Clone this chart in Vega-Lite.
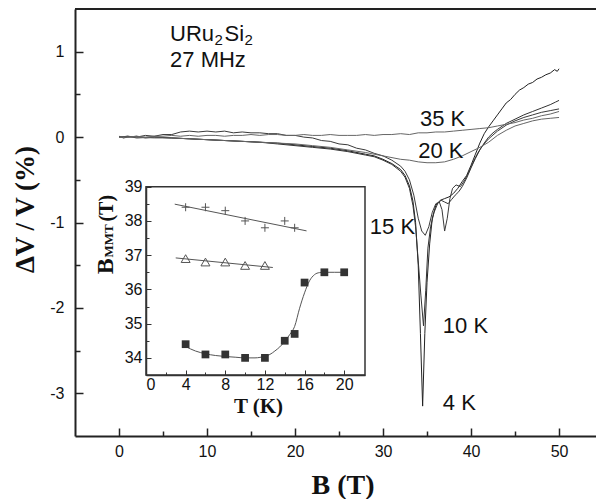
{
  "$schema": "https://vega.github.io/schema/vega-lite/v6.json",
  "width": 521,
  "height": 427,
  "autosize": {"type": "none"},
  "padding": {"left": 75, "top": 9, "right": 0, "bottom": 63},
  "background": "white",
  "config": {"view": {"stroke": null}},
  "datasets": {
    "curves": [
      {"T":"4 K","B":0,"dV":0.01},{"T":"4 K","B":0.5,"dV":-0.01},{"T":"4 K","B":1,"dV":0.0},{"T":"4 K","B":2,"dV":0.01},{"T":"4 K","B":3,"dV":-0.01},{"T":"4 K","B":4,"dV":0.0},{"T":"4 K","B":6,"dV":-0.01},{"T":"4 K","B":8,"dV":-0.02},{"T":"4 K","B":10,"dV":-0.03},{"T":"4 K","B":12,"dV":-0.04},{"T":"4 K","B":14,"dV":-0.05},{"T":"4 K","B":16,"dV":-0.06},{"T":"4 K","B":18,"dV":-0.07},{"T":"4 K","B":20,"dV":-0.09},{"T":"4 K","B":22,"dV":-0.11},{"T":"4 K","B":24,"dV":-0.13},{"T":"4 K","B":26,"dV":-0.16},{"T":"4 K","B":28,"dV":-0.2},{"T":"4 K","B":29,"dV":-0.22},{"T":"4 K","B":30,"dV":-0.26},{"T":"4 K","B":31,"dV":-0.31},{"T":"4 K","B":32,"dV":-0.38},{"T":"4 K","B":32.5,"dV":-0.45},{"T":"4 K","B":33,"dV":-0.57},{"T":"4 K","B":33.4,"dV":-0.75},{"T":"4 K","B":33.7,"dV":-1.0},{"T":"4 K","B":34.0,"dV":-1.5},{"T":"4 K","B":34.25,"dV":-2.3},{"T":"4 K","B":34.5,"dV":-3.15},{"T":"4 K","B":34.75,"dV":-2.3},{"T":"4 K","B":35.0,"dV":-1.7},{"T":"4 K","B":35.3,"dV":-1.25},{"T":"4 K","B":35.6,"dV":-0.95},{"T":"4 K","B":36.0,"dV":-0.8},{"T":"4 K","B":36.5,"dV":-0.74},{"T":"4 K","B":37.0,"dV":-0.72},{"T":"4 K","B":37.5,"dV":-0.7},{"T":"4 K","B":38.0,"dV":-0.66},{"T":"4 K","B":38.5,"dV":-0.6},{"T":"4 K","B":39.0,"dV":-0.52},{"T":"4 K","B":39.5,"dV":-0.45},{"T":"4 K","B":40,"dV":-0.33},{"T":"4 K","B":40.5,"dV":-0.2},{"T":"4 K","B":41,"dV":-0.07},{"T":"4 K","B":41.5,"dV":0.04},{"T":"4 K","B":42,"dV":0.12},{"T":"4 K","B":42.5,"dV":0.19},{"T":"4 K","B":43,"dV":0.26},{"T":"4 K","B":43.5,"dV":0.33},{"T":"4 K","B":44,"dV":0.4},{"T":"4 K","B":44.5,"dV":0.44},{"T":"4 K","B":45,"dV":0.5},{"T":"4 K","B":45.5,"dV":0.55},{"T":"4 K","B":46,"dV":0.58},{"T":"4 K","B":46.5,"dV":0.62},{"T":"4 K","B":47,"dV":0.64},{"T":"4 K","B":47.5,"dV":0.68},{"T":"4 K","B":48,"dV":0.7},{"T":"4 K","B":48.5,"dV":0.73},{"T":"4 K","B":49,"dV":0.75},{"T":"4 K","B":49.5,"dV":0.79},{"T":"4 K","B":49.8,"dV":0.77},{"T":"4 K","B":50,"dV":0.8},
      {"T":"10 K","B":0,"dV":0.0},{"T":"10 K","B":1,"dV":0.01},{"T":"10 K","B":2,"dV":-0.01},{"T":"10 K","B":4,"dV":0.0},{"T":"10 K","B":6,"dV":-0.01},{"T":"10 K","B":8,"dV":-0.02},{"T":"10 K","B":10,"dV":-0.03},{"T":"10 K","B":12,"dV":-0.04},{"T":"10 K","B":14,"dV":-0.05},{"T":"10 K","B":16,"dV":-0.06},{"T":"10 K","B":18,"dV":-0.08},{"T":"10 K","B":20,"dV":-0.1},{"T":"10 K","B":22,"dV":-0.12},{"T":"10 K","B":24,"dV":-0.14},{"T":"10 K","B":26,"dV":-0.17},{"T":"10 K","B":28,"dV":-0.21},{"T":"10 K","B":29,"dV":-0.23},{"T":"10 K","B":30,"dV":-0.27},{"T":"10 K","B":31,"dV":-0.32},{"T":"10 K","B":32,"dV":-0.4},{"T":"10 K","B":32.5,"dV":-0.47},{"T":"10 K","B":33,"dV":-0.6},{"T":"10 K","B":33.4,"dV":-0.8},{"T":"10 K","B":33.7,"dV":-1.05},{"T":"10 K","B":34.0,"dV":-1.45},{"T":"10 K","B":34.3,"dV":-1.85},{"T":"10 K","B":34.6,"dV":-2.21},{"T":"10 K","B":34.85,"dV":-1.8},{"T":"10 K","B":35.1,"dV":-1.3},{"T":"10 K","B":35.4,"dV":-1.05},{"T":"10 K","B":35.8,"dV":-0.88},{"T":"10 K","B":36.2,"dV":-0.78},{"T":"10 K","B":36.6,"dV":-0.74},{"T":"10 K","B":37.0,"dV":-0.76},{"T":"10 K","B":37.4,"dV":-0.78},{"T":"10 K","B":37.8,"dV":-0.73},{"T":"10 K","B":38.2,"dV":-0.68},{"T":"10 K","B":38.6,"dV":-0.64},{"T":"10 K","B":39.0,"dV":-0.58},{"T":"10 K","B":39.5,"dV":-0.48},{"T":"10 K","B":40,"dV":-0.36},{"T":"10 K","B":40.5,"dV":-0.25},{"T":"10 K","B":41,"dV":-0.15},{"T":"10 K","B":41.5,"dV":-0.07},{"T":"10 K","B":42,"dV":0.0},{"T":"10 K","B":42.5,"dV":0.05},{"T":"10 K","B":43,"dV":0.09},{"T":"10 K","B":44,"dV":0.16},{"T":"10 K","B":45,"dV":0.21},{"T":"10 K","B":46,"dV":0.26},{"T":"10 K","B":47,"dV":0.3},{"T":"10 K","B":48,"dV":0.34},{"T":"10 K","B":49,"dV":0.38},{"T":"10 K","B":49.6,"dV":0.41},{"T":"10 K","B":50,"dV":0.43},
      {"T":"15 K","B":0,"dV":0.0},{"T":"15 K","B":1,"dV":0.01},{"T":"15 K","B":2,"dV":0.0},{"T":"15 K","B":3,"dV":0.02},{"T":"15 K","B":4,"dV":0.01},{"T":"15 K","B":5,"dV":0.03},{"T":"15 K","B":6,"dV":0.03},{"T":"15 K","B":7,"dV":0.06},{"T":"15 K","B":8,"dV":0.07},{"T":"15 K","B":9,"dV":0.06},{"T":"15 K","B":10,"dV":0.07},{"T":"15 K","B":11,"dV":0.06},{"T":"15 K","B":12,"dV":0.07},{"T":"15 K","B":13,"dV":0.05},{"T":"15 K","B":14,"dV":0.06},{"T":"15 K","B":15,"dV":0.05},{"T":"15 K","B":16,"dV":0.05},{"T":"15 K","B":17,"dV":0.04},{"T":"15 K","B":18,"dV":0.04},{"T":"15 K","B":19,"dV":0.02},{"T":"15 K","B":20,"dV":0.02},{"T":"15 K","B":21,"dV":0.0},{"T":"15 K","B":22,"dV":-0.01},{"T":"15 K","B":23,"dV":-0.04},{"T":"15 K","B":24,"dV":-0.05},{"T":"15 K","B":25,"dV":-0.08},{"T":"15 K","B":26,"dV":-0.09},{"T":"15 K","B":27,"dV":-0.13},{"T":"15 K","B":28,"dV":-0.15},{"T":"15 K","B":29,"dV":-0.19},{"T":"15 K","B":30,"dV":-0.22},{"T":"15 K","B":31,"dV":-0.27},{"T":"15 K","B":32,"dV":-0.34},{"T":"15 K","B":32.5,"dV":-0.4},{"T":"15 K","B":33,"dV":-0.5},{"T":"15 K","B":33.5,"dV":-0.68},{"T":"15 K","B":34,"dV":-0.95},{"T":"15 K","B":34.4,"dV":-1.1},{"T":"15 K","B":34.8,"dV":-1.15},{"T":"15 K","B":35.2,"dV":-1.05},{"T":"15 K","B":35.6,"dV":-0.88},{"T":"15 K","B":36.0,"dV":-0.78},{"T":"15 K","B":36.4,"dV":-0.76},{"T":"15 K","B":36.7,"dV":-0.85},{"T":"15 K","B":37.0,"dV":-1.1},{"T":"15 K","B":37.3,"dV":-0.95},{"T":"15 K","B":37.6,"dV":-0.72},{"T":"15 K","B":37.9,"dV":-0.6},{"T":"15 K","B":38.3,"dV":-0.56},{"T":"15 K","B":38.8,"dV":-0.58},{"T":"15 K","B":39.3,"dV":-0.5},{"T":"15 K","B":39.8,"dV":-0.4},{"T":"15 K","B":40.3,"dV":-0.28},{"T":"15 K","B":40.8,"dV":-0.18},{"T":"15 K","B":41.3,"dV":-0.1},{"T":"15 K","B":42,"dV":-0.02},{"T":"15 K","B":43,"dV":0.07},{"T":"15 K","B":44,"dV":0.14},{"T":"15 K","B":45,"dV":0.19},{"T":"15 K","B":46,"dV":0.23},{"T":"15 K","B":47,"dV":0.26},{"T":"15 K","B":48,"dV":0.29},{"T":"15 K","B":49,"dV":0.31},{"T":"15 K","B":50,"dV":0.33},
      {"T":"20 K","B":0,"dV":0.0},{"T":"20 K","B":2,"dV":0.0},{"T":"20 K","B":4,"dV":-0.01},{"T":"20 K","B":6,"dV":-0.01},{"T":"20 K","B":8,"dV":-0.02},{"T":"20 K","B":10,"dV":-0.03},{"T":"20 K","B":12,"dV":-0.04},{"T":"20 K","B":14,"dV":-0.05},{"T":"20 K","B":16,"dV":-0.06},{"T":"20 K","B":18,"dV":-0.07},{"T":"20 K","B":20,"dV":-0.08},{"T":"20 K","B":22,"dV":-0.1},{"T":"20 K","B":24,"dV":-0.12},{"T":"20 K","B":26,"dV":-0.15},{"T":"20 K","B":28,"dV":-0.18},{"T":"20 K","B":30,"dV":-0.22},{"T":"20 K","B":32,"dV":-0.26},{"T":"20 K","B":33,"dV":-0.27},{"T":"20 K","B":34,"dV":-0.29},{"T":"20 K","B":35,"dV":-0.3},{"T":"20 K","B":36,"dV":-0.3},{"T":"20 K","B":37,"dV":-0.29},{"T":"20 K","B":38,"dV":-0.26},{"T":"20 K","B":39,"dV":-0.22},{"T":"20 K","B":40,"dV":-0.17},{"T":"20 K","B":41,"dV":-0.12},{"T":"20 K","B":42,"dV":-0.06},{"T":"20 K","B":43,"dV":0.02},{"T":"20 K","B":44,"dV":0.08},{"T":"20 K","B":45,"dV":0.13},{"T":"20 K","B":46,"dV":0.16},{"T":"20 K","B":47,"dV":0.19},{"T":"20 K","B":48,"dV":0.21},{"T":"20 K","B":49,"dV":0.22},{"T":"20 K","B":50,"dV":0.23},
      {"T":"35 K","B":0,"dV":0.0},{"T":"35 K","B":1,"dV":0.0},{"T":"35 K","B":2,"dV":0.01},{"T":"35 K","B":3,"dV":0.0},{"T":"35 K","B":4,"dV":0.01},{"T":"35 K","B":5,"dV":0.01},{"T":"35 K","B":6,"dV":0.02},{"T":"35 K","B":7,"dV":0.01},{"T":"35 K","B":8,"dV":0.02},{"T":"35 K","B":9,"dV":0.01},{"T":"35 K","B":10,"dV":0.02},{"T":"35 K","B":11,"dV":0.02},{"T":"35 K","B":12,"dV":0.01},{"T":"35 K","B":13,"dV":0.02},{"T":"35 K","B":14,"dV":0.02},{"T":"35 K","B":15,"dV":0.03},{"T":"35 K","B":16,"dV":0.02},{"T":"35 K","B":17,"dV":0.03},{"T":"35 K","B":18,"dV":0.03},{"T":"35 K","B":19,"dV":0.02},{"T":"35 K","B":20,"dV":0.02},{"T":"35 K","B":21,"dV":0.03},{"T":"35 K","B":22,"dV":0.02},{"T":"35 K","B":23,"dV":0.02},{"T":"35 K","B":24,"dV":0.03},{"T":"35 K","B":25,"dV":0.02},{"T":"35 K","B":26,"dV":0.02},{"T":"35 K","B":27,"dV":0.02},{"T":"35 K","B":28,"dV":0.03},{"T":"35 K","B":29,"dV":0.02},{"T":"35 K","B":30,"dV":0.03},{"T":"35 K","B":31,"dV":0.03},{"T":"35 K","B":32,"dV":0.04},{"T":"35 K","B":33,"dV":0.03},{"T":"35 K","B":34,"dV":0.05},{"T":"35 K","B":35,"dV":0.05},{"T":"35 K","B":36,"dV":0.06},{"T":"35 K","B":37,"dV":0.06},{"T":"35 K","B":38,"dV":0.07},{"T":"35 K","B":39,"dV":0.08},{"T":"35 K","B":40,"dV":0.09},{"T":"35 K","B":41,"dV":0.1},{"T":"35 K","B":42,"dV":0.11},{"T":"35 K","B":43,"dV":0.13},{"T":"35 K","B":44,"dV":0.15},{"T":"35 K","B":45,"dV":0.17},{"T":"35 K","B":46,"dV":0.2},{"T":"35 K","B":47,"dV":0.22},{"T":"35 K","B":48,"dV":0.25},{"T":"35 K","B":49,"dV":0.27},{"T":"35 K","B":50,"dV":0.3}
    ],
    "labels": [
      {"B": 5.8, "dV": 1.13, "text": "URu"},
      {"B": 12.0, "dV": 1.13, "text": "Si"},
      {"B": 5.8, "dV": 0.82, "text": "27 MHz"},
      {"B": 34.2, "dV": 0.13, "text": "35 K"},
      {"B": 34.0, "dV": -0.25, "text": "20 K"},
      {"B": 28.5, "dV": -1.14, "text": "15 K"},
      {"B": 36.8, "dV": -2.29, "text": "10 K"},
      {"B": 36.8, "dV": -3.19, "text": "4 K"}
    ],
    "subscripts": [
      {"B": 10.85, "dV": 1.08, "text": "2"},
      {"B": 14.25, "dV": 1.08, "text": "2"}
    ],
    "points": [
      {"kind":"square","T":4,"Bmmt":34.4},{"kind":"square","T":6,"Bmmt":34.1},{"kind":"square","T":8,"Bmmt":34.1},{"kind":"square","T":10,"Bmmt":34.0},{"kind":"square","T":12,"Bmmt":34.0},{"kind":"square","T":14,"Bmmt":34.5},{"kind":"square","T":15,"Bmmt":34.7},{"kind":"square","T":16,"Bmmt":36.2},{"kind":"square","T":18,"Bmmt":36.5},{"kind":"square","T":20,"Bmmt":36.5},
      {"kind":"triangle","T":4,"Bmmt":36.9},{"kind":"triangle","T":6,"Bmmt":36.8},{"kind":"triangle","T":8,"Bmmt":36.8},{"kind":"triangle","T":10,"Bmmt":36.7},{"kind":"triangle","T":12,"Bmmt":36.7},
      {"kind":"cross","T":4,"Bmmt":38.4},{"kind":"cross","T":6,"Bmmt":38.4},{"kind":"cross","T":8,"Bmmt":38.3},{"kind":"cross","T":10,"Bmmt":38.0},{"kind":"cross","T":12,"Bmmt":37.8},{"kind":"cross","T":14,"Bmmt":38.0},{"kind":"cross","T":15,"Bmmt":37.8}
    ],
    "fits": [
      {"kind":"square","T":4,"Bmmt":34.33},{"kind":"square","T":5,"Bmmt":34.2},{"kind":"square","T":6,"Bmmt":34.12},{"kind":"square","T":7,"Bmmt":34.07},{"kind":"square","T":8,"Bmmt":34.04},{"kind":"square","T":9,"Bmmt":34.02},{"kind":"square","T":10,"Bmmt":34.0},{"kind":"square","T":11,"Bmmt":34.0},{"kind":"square","T":12,"Bmmt":34.05},{"kind":"square","T":12.5,"Bmmt":34.1},{"kind":"square","T":13,"Bmmt":34.2},{"kind":"square","T":13.5,"Bmmt":34.32},{"kind":"square","T":14,"Bmmt":34.48},{"kind":"square","T":14.5,"Bmmt":34.68},{"kind":"square","T":15,"Bmmt":34.92},{"kind":"square","T":15.5,"Bmmt":35.45},{"kind":"square","T":16,"Bmmt":35.9},{"kind":"square","T":16.5,"Bmmt":36.25},{"kind":"square","T":17,"Bmmt":36.43},{"kind":"square","T":17.5,"Bmmt":36.49},{"kind":"square","T":18,"Bmmt":36.5},{"kind":"square","T":19,"Bmmt":36.5},{"kind":"square","T":20,"Bmmt":36.5},
      {"kind":"triangle","T":3,"Bmmt":36.92},{"kind":"triangle","T":12.8,"Bmmt":36.64},
      {"kind":"cross","T":2.9,"Bmmt":38.49},{"kind":"cross","T":16.2,"Bmmt":37.71}
    ]
  },
  "resolve": {"scale": {"x": "independent", "y": "independent"}, "axis": {"x": "independent", "y": "independent"}},
  "layer": [
    {
      "data": {"name": "curves"},
      "mark": {"type": "line", "strokeWidth": 1},
      "encoding": {
        "x": {"field": "B", "type": "quantitative",
          "scale": {"domain": [-5, 54.2], "nice": false, "zero": false},
          "axis": {"orient": "bottom", "values": [0,5,10,15,20,25,30,35,40,45,50],
            "labelExpr": "datum.value % 10 === 0 ? '' + datum.value : ''",
            "tickSize": {"condition": {"test": "datum.value % 10 !== 0", "value": -5}, "value": -8},
            "tickWidth": 1.5, "tickColor": "#222", "domainWidth": 2, "domainColor": "#222",
            "labelFont": "Liberation Sans", "labelFontSize": 16, "labelColor": "#111", "labelPadding": 15,
            "grid": false, "title": "B (T)", "titleFont": "Liberation Serif", "titleFontSize": 28,
            "titleFontWeight": "bold", "titleColor": "#111", "titleX": 267.5, "titleY": 57, "titleBaseline": "alphabetic", "titleAlign": "center"}},
        "y": {"field": "dV", "type": "quantitative",
          "scale": {"domain": [-3.5, 1.5], "nice": false, "zero": false},
          "axis": {"orient": "left", "values": [-3,-2.5,-2,-1.5,-1,-0.5,0,0.5,1],
            "labelExpr": "datum.value % 1 === 0 ? '' + datum.value : ''",
            "tickSize": {"condition": {"test": "datum.value % 1 !== 0", "value": -5}, "value": -8},
            "tickWidth": 1.5, "tickColor": "#222", "domainWidth": 2, "domainColor": "#222",
            "labelFont": "Liberation Sans", "labelFontSize": 16, "labelColor": "#111", "labelPadding": 19,
            "grid": false, "title": "ΔV / V (%)", "titleFont": "Liberation Serif", "titleFontSize": 27,
            "titleFontWeight": "bold", "titleColor": "#111", "titleX": -42, "titleY": 200, "titleAngle": 270, "titleBaseline": "alphabetic", "titleAlign": "center"}},
        "detail": {"field": "T"},
        "color": {"field": "T", "type": "nominal", "legend": null,
          "scale": {"domain": ["4 K","10 K","15 K","20 K","35 K"], "range": ["#222","#333","#3a3a3a","#666","#666"]}}
      }
    },
    {
      "data": {"values": [{}]},
      "mark": {"type": "rule", "color": "#222", "strokeWidth": 2},
      "encoding": {"y": {"datum": 1.5, "type": "quantitative", "scale": {"domain": [-3.5, 1.5], "nice": false, "zero": false}, "axis": null}}
    },
    {
      "data": {"name": "labels"},
      "mark": {"type": "text", "align": "left", "baseline": "alphabetic", "font": "Liberation Sans", "fontSize": 22, "color": "#111"},
      "encoding": {
        "x": {"field": "B", "type": "quantitative", "scale": {"domain": [-5, 54.2], "nice": false, "zero": false}, "axis": null},
        "y": {"field": "dV", "type": "quantitative", "scale": {"domain": [-3.5, 1.5], "nice": false, "zero": false}, "axis": null},
        "text": {"field": "text"}
      }
    },
    {
      "data": {"name": "subscripts"},
      "mark": {"type": "text", "align": "left", "baseline": "alphabetic", "font": "Liberation Sans", "fontSize": 15, "color": "#111"},
      "encoding": {
        "x": {"field": "B", "type": "quantitative", "scale": {"domain": [-5, 54.2], "nice": false, "zero": false}, "axis": null},
        "y": {"field": "dV", "type": "quantitative", "scale": {"domain": [-3.5, 1.5], "nice": false, "zero": false}, "axis": null},
        "text": {"field": "text"}
      }
    },
    {
      "data": {"values": [{}]},
      "mark": {"type": "rect", "fill": "white", "stroke": "#333", "strokeWidth": 1.5},
      "encoding": {
        "x": {"datum": 0, "type": "quantitative", "scale": {"domain": [0, 22.1], "range": [71, 290], "nice": false, "zero": false}, "axis": null},
        "x2": {"datum": 22.1},
        "y": {"datum": 33.5, "type": "quantitative", "scale": {"domain": [33.5, 39], "range": [366, 177.7], "nice": false, "zero": false}, "axis": null},
        "y2": {"datum": 39}
      }
    },
    {
      "data": {"name": "fits"},
      "mark": {"type": "line", "strokeWidth": 1, "color": "#555", "interpolate": "monotone"},
      "encoding": {
        "x": {"field": "T", "type": "quantitative",
          "scale": {"domain": [0, 22.1], "range": [71, 290], "nice": false, "zero": false},
          "axis": {"orient": "bottom", "offset": -61, "zindex": 1, "values": [0,2,4,6,8,10,12,14,16,18,20],
            "labelExpr": "datum.value % 4 === 0 ? '' + datum.value : ''",
            "tickSize": {"condition": {"test": "datum.value % 4 !== 0", "value": -3}, "value": -5},
            "tickWidth": 1, "tickColor": "#333", "domainWidth": 1.5, "domainColor": "#333",
            "labelFont": "Liberation Sans", "labelFontSize": 16, "labelColor": "#111", "labelPadding": 6,
            "grid": false, "title": "T (K)", "titleFont": "Liberation Serif", "titleFontSize": 21,
            "titleFontWeight": "bold", "titleColor": "#111", "titleX": 183, "titleY": 37, "titleBaseline": "alphabetic", "titleAlign": "center"}},
        "y": {"field": "Bmmt", "type": "quantitative",
          "scale": {"domain": [33.5, 39], "range": [366, 177.7], "nice": false, "zero": false},
          "axis": {"orient": "left", "offset": -71, "zindex": 1, "values": [34,34.5,35,35.5,36,36.5,37,37.5,38,38.5,39],
            "labelExpr": "datum.value % 1 === 0 ? '' + datum.value : ''",
            "tickSize": {"condition": {"test": "datum.value % 1 !== 0", "value": -3}, "value": -5},
            "tickWidth": 1, "tickColor": "#333", "domainWidth": 1.5, "domainColor": "#333",
            "labelFont": "Liberation Sans", "labelFontSize": 16, "labelColor": "#111", "labelPadding": 9,
            "grid": false, "title": null}},
        "detail": {"field": "kind"}
      }
    },
    {
      "data": {"name": "points"},
      "transform": [{"filter": "datum.kind === 'square'"}],
      "mark": {"type": "point", "shape": "square", "filled": true, "color": "#333", "size": 60, "opacity": 1},
      "encoding": {
        "x": {"field": "T", "type": "quantitative", "scale": {"domain": [0, 22.1], "range": [71, 290], "nice": false, "zero": false}, "axis": null},
        "y": {"field": "Bmmt", "type": "quantitative", "scale": {"domain": [33.5, 39], "range": [366, 177.7], "nice": false, "zero": false}, "axis": null}
      }
    },
    {
      "data": {"name": "points"},
      "transform": [{"filter": "datum.kind === 'triangle'"}],
      "mark": {"type": "point", "shape": "triangle-up", "filled": false, "color": "#555", "size": 80, "strokeWidth": 1, "opacity": 1},
      "encoding": {
        "x": {"field": "T", "type": "quantitative", "scale": {"domain": [0, 22.1], "range": [71, 290], "nice": false, "zero": false}, "axis": null},
        "y": {"field": "Bmmt", "type": "quantitative", "scale": {"domain": [33.5, 39], "range": [366, 177.7], "nice": false, "zero": false}, "axis": null}
      }
    },
    {
      "data": {"name": "points"},
      "transform": [{"filter": "datum.kind === 'cross'"}],
      "mark": {"type": "point", "shape": "M -1 0 L 1 0 M 0 -1 L 0 1", "filled": false, "color": "#555", "size": 64, "strokeWidth": 1, "opacity": 1},
      "encoding": {
        "x": {"field": "T", "type": "quantitative", "scale": {"domain": [0, 22.1], "range": [71, 290], "nice": false, "zero": false}, "axis": null},
        "y": {"field": "Bmmt", "type": "quantitative", "scale": {"domain": [33.5, 39], "range": [366, 177.7], "nice": false, "zero": false}, "axis": null}
      }
    },
    {
      "data": {"values": [{}]},
      "mark": {"type": "text", "text": "B", "angle": 270, "align": "left", "baseline": "alphabetic", "font": "Liberation Serif", "fontWeight": "bold", "fontSize": 24, "color": "#111"},
      "encoding": {
        "x": {"datum": -3.35, "type": "quantitative", "scale": {"domain": [0, 22.1], "range": [71, 290], "nice": false, "zero": false}, "axis": null},
        "y": {"datum": 36.44, "type": "quantitative", "scale": {"domain": [33.5, 39], "range": [366, 177.7], "nice": false, "zero": false}, "axis": null}
      }
    },
    {
      "data": {"values": [{}]},
      "mark": {"type": "text", "text": "MMT", "angle": 270, "align": "left", "baseline": "alphabetic", "font": "Liberation Serif", "fontWeight": "bold", "fontSize": 13, "color": "#111"},
      "encoding": {
        "x": {"datum": -3.35, "type": "quantitative", "scale": {"domain": [0, 22.1], "range": [71, 290], "nice": false, "zero": false}, "axis": null},
        "y": {"datum": 36.93, "type": "quantitative", "scale": {"domain": [33.5, 39], "range": [366, 177.7], "nice": false, "zero": false}, "axis": null}
      }
    },
    {
      "data": {"values": [{}]},
      "mark": {"type": "text", "text": "(T)", "angle": 270, "align": "left", "baseline": "alphabetic", "font": "Liberation Serif", "fontWeight": "bold", "fontSize": 20, "color": "#111"},
      "encoding": {
        "x": {"datum": -3.35, "type": "quantitative", "scale": {"domain": [0, 22.1], "range": [71, 290], "nice": false, "zero": false}, "axis": null},
        "y": {"datum": 37.98, "type": "quantitative", "scale": {"domain": [33.5, 39], "range": [366, 177.7], "nice": false, "zero": false}, "axis": null}
      }
    }
  ]
}
